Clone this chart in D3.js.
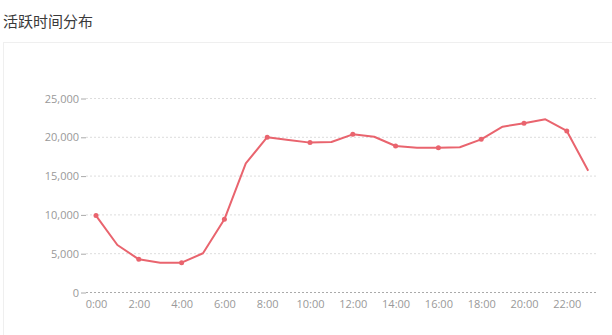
<!DOCTYPE html>
<html>
<head>
<meta charset="utf-8">
<script src="https://cdn.jsdelivr.net/npm/d3@7"></script>
<style>
  body { margin: 0; background: #fff; font-family: "Noto Sans CJK SC", "Open Sans", sans-serif; }
</style>
</head>
<body>
<div id="theGraph"></div>
<script>
const title = "活跃时间分布";
const hours = d3.range(24);
const activeUsers = [9850, 6060, 4210, 3780, 3780, 4990, 9370, 16580, 19950, 19600,
    19250, 19330, 20320, 20010, 18810, 18600, 18600, 18650, 19670, 21300,
    21740, 22250, 20750, 15630];
const yTicks = [0, 5000, 10000, 15000, 20000, 25000];
const xTicks = [0, 2, 4, 6, 8, 10, 12, 14, 16, 18, 20, 22];

const width = 612, height = 335,
    margin = {left: 96, top: 98, right: 24, bottom: 43};

const svg = d3.select("#theGraph").append("svg").attr("width", width).attr("height", height);

// title + card
svg.append("text").attr("x", 3).attr("y", 27).attr("font-size", 15).attr("fill", "#3a3a3a").text(title);
svg.append("rect").attr("x", 3.5).attr("y", 42.5).attr("width", width).attr("height", height)
    .attr("fill", "none").attr("stroke", "#efefef");

const xScale = d3.scaleLinear().domain([0, 23]).range([margin.left, margin.left + 23 * 21.4]);
const yScale = d3.scaleLinear().domain([0, 25000]).range([height - margin.bottom, margin.top]);

// grid
svg.append("g").selectAll("line").data(yTicks).enter().append("line")
    .attr("x1", 86).attr("x2", 597)
    .attr("y1", d => yScale(d) + 0.5).attr("y2", d => yScale(d) + 0.5)
    .attr("stroke", d => d === 0 ? "#aaa" : "#ddd")
    .attr("stroke-dasharray", "2,2");

// y axis
const yAxis = svg.append("g").attr("transform", "translate(86,0.5)")
    .call(d3.axisLeft(yScale).tickValues(yTicks).tickSize(5).tickPadding(2).tickFormat(d3.format(",")));
yAxis.select(".domain").remove();
yAxis.selectAll("line").attr("stroke", "#aaa");
yAxis.selectAll("text").attr("fill", "#999").attr("font-size", 11).attr("font-family", "Open Sans, sans-serif");

// x axis
const xAxis = svg.append("g").attr("transform", `translate(0,${height - margin.bottom})`)
    .call(d3.axisBottom(xScale).tickValues(xTicks).tickSize(0).tickPadding(8).tickFormat(d => d + ":00"));
xAxis.select(".domain").remove();
xAxis.selectAll("text").attr("fill", "#999").attr("font-size", 11).attr("font-family", "Open Sans, sans-serif");

// line
const line = d3.line().x((d, i) => xScale(hours[i])).y(d => yScale(d));
svg.append("path").datum(activeUsers).attr("d", line)
    .attr("fill", "none").attr("stroke", "#e9646e").attr("stroke-width", 2).attr("stroke-linejoin", "round");

svg.append("g").selectAll("circle").data(xTicks).enter().append("circle")
    .attr("cx", d => xScale(d)).attr("cy", d => yScale(activeUsers[d])).attr("r", 2.5)
    .attr("fill", "#e9646e");
</script>
</body>
</html>
